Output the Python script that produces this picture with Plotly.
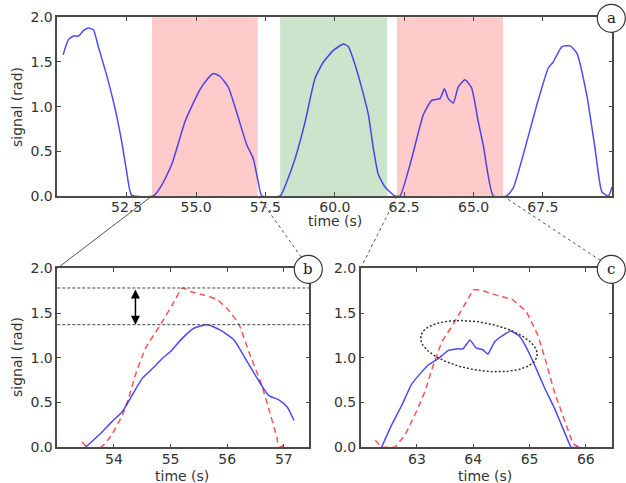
import numpy as np
import plotly.graph_objects as go

W, H = 626, 483

# ---------------- data ----------------
top_t = [50.21, 50.40, 50.58, 50.76, 50.94, 51.12, 51.30, 51.48, 51.78, 52.08, 52.32, 52.50, 52.68,
         53.46, 53.76, 54.12, 54.60, 54.84, 55.14, 55.44, 55.62, 55.86, 56.16, 56.46, 56.83, 57.06,
         57.24, 57.37, 58.03, 58.27, 58.57, 58.93, 59.29, 59.59, 59.95, 60.31, 60.49, 60.73, 60.97,
         61.21, 61.39, 61.57, 61.81, 62.17, 62.35, 62.77, 63.19, 63.49, 63.79, 63.95, 64.09, 64.27,
         64.45, 64.69, 64.93, 65.17, 65.35, 65.71, 66.19, 66.43, 66.79, 67.28, 67.69, 67.87, 68.18,
         68.48, 68.72, 69.08, 69.38, 69.62, 69.86, 69.99]
top_sig = [1.58, 1.75, 1.79, 1.79, 1.85, 1.88, 1.86, 1.67, 1.35, 0.98, 0.61, 0.27, 0.01,
           0.00, 0.12, 0.35, 0.83, 1.00, 1.19, 1.32, 1.37, 1.34, 1.22, 0.94, 0.57, 0.42,
           0.16, 0.00, 0.00, 0.16, 0.42, 0.83, 1.32, 1.50, 1.63, 1.70, 1.67, 1.47, 1.21,
           0.91, 0.53, 0.24, 0.10, 0.00, 0.00, 0.42, 0.91, 1.07, 1.09, 1.20, 1.09, 1.04,
           1.22, 1.30, 1.21, 0.83, 0.57, 0.00, 0.00, 0.09, 0.46, 1.02, 1.43, 1.50, 1.67,
           1.68, 1.60, 1.13, 0.53, 0.05, 0.00, 0.10]

red_zones = [(53.41, 57.22), (62.24, 66.06)]
green_zones = [(58.03, 61.89)]

b_t = [53.50, 53.74, 53.97, 54.15, 54.32, 54.50, 54.68, 54.85, 55.00, 55.18, 55.41, 55.65,
       55.88, 56.12, 56.35, 56.53, 56.73, 56.91, 57.06, 57.18]
b_sig = [0.00, 0.14, 0.29, 0.40, 0.58, 0.77, 0.88, 0.99, 1.07, 1.20, 1.33, 1.37,
         1.31, 1.20, 0.96, 0.77, 0.58, 0.53, 0.45, 0.30]
b_ref_t = [53.44, 53.53, 53.77, 53.94, 54.15, 54.26, 54.38, 54.56, 54.74, 54.85, 55.03, 55.21,
           55.35, 55.59, 55.82, 56.00, 56.21, 56.38, 56.59, 56.73, 56.88, 56.91, 57.00, 57.06]
b_ref = [0.06, 0.00, 0.00, 0.12, 0.36, 0.55, 0.81, 1.11, 1.29, 1.40, 1.59, 1.78,
         1.74, 1.70, 1.65, 1.55, 1.37, 1.07, 0.73, 0.44, 0.10, 0.00, 0.02, 0.00]
b_levels = [1.78, 1.37]
b_arrow_t = 54.38

c_t = [62.37, 62.55, 62.73, 62.90, 63.08, 63.20, 63.38, 63.55, 63.73, 63.82, 63.94, 64.05,
       64.17, 64.26, 64.38, 64.50, 64.67, 64.82, 64.94, 65.09, 65.27, 65.44, 65.62, 65.74, 65.88]
c_sig = [0.00, 0.25, 0.47, 0.70, 0.84, 0.92, 0.99, 1.08, 1.10, 1.10, 1.20, 1.11,
         1.09, 1.04, 1.18, 1.24, 1.30, 1.24, 1.12, 0.92, 0.66, 0.44, 0.17, 0.00, 0.00]
c_ref_t = [62.26, 62.37, 62.61, 62.79, 62.99, 63.14, 63.29, 63.44, 63.64, 63.85, 64.00, 64.12,
           64.41, 64.70, 64.94, 65.15, 65.29, 65.44, 65.62, 65.77, 65.88]
c_ref = [0.08, 0.00, 0.00, 0.14, 0.40, 0.62, 0.92, 1.18, 1.37, 1.59, 1.76, 1.76,
         1.70, 1.65, 1.52, 1.25, 0.96, 0.62, 0.29, 0.04, 0.00]
# ellipse marker in panel c: centre (t, signal), semi-axes (px), tilt (deg)
ell_center = (64.10, 1.13)
ell_axes_px = (59, 24)
ell_tilt = 9.6

top_ticks = [52.5, 55.0, 57.5, 60.0, 62.5, 65.0, 67.5]
b_ticks = [54, 55, 56, 57]
c_ticks = [63, 64, 65, 66]
y_ticks = [0.0, 0.5, 1.0, 1.5, 2.0]

# ---------------- layout geometry (pixels) ----------------
top_box = (57.3, 612.3, 17.3, 196.0)   # left, right, top, bottom
b_box = (57.3, 309.3, 268.3, 447.3)
c_box = (360.7, 612.3, 268.3, 447.3)
top_range = [50, 70]
b_range = [53.0, 57.45]
c_range = [62.0, 66.47]
y_range = [0, 2]


def xdom(box):
    return [box[0] / W, box[1] / W]


def ydom(box):
    return [1 - box[3] / H, 1 - box[2] / H]


def to_px(box, xr, x, y):
    px = box[0] + (x - xr[0]) / (xr[1] - xr[0]) * (box[1] - box[0])
    py = box[3] - (y - y_range[0]) / (y_range[1] - y_range[0]) * (box[3] - box[2])
    return px, py


BLUE = "rgba(30,30,245,0.8)"
RED = "rgba(255,40,40,0.8)"
AX = "#4a4a4a"
TXT = "#333333"
FONT = "DejaVu Sans"
SM = 0.5

fig = go.Figure()
fig.add_trace(go.Scatter(x=top_t, y=top_sig, mode="lines",
                         line=dict(color=BLUE, width=1.5, shape="spline", smoothing=SM),
                         xaxis="x", yaxis="y", showlegend=False, cliponaxis=True))
fig.add_trace(go.Scatter(x=b_ref_t, y=b_ref, mode="lines",
                         line=dict(color=RED, width=1.5, dash="6px,4px", shape="spline", smoothing=SM),
                         xaxis="x2", yaxis="y2", showlegend=False))
fig.add_trace(go.Scatter(x=b_t, y=b_sig, mode="lines",
                         line=dict(color=BLUE, width=1.5, shape="spline", smoothing=SM),
                         xaxis="x2", yaxis="y2", showlegend=False))
fig.add_trace(go.Scatter(x=c_ref_t, y=c_ref, mode="lines",
                         line=dict(color=RED, width=1.5, dash="6px,4px"),
                         xaxis="x3", yaxis="y3", showlegend=False))
fig.add_trace(go.Scatter(x=c_t, y=c_sig, mode="lines",
                         line=dict(color=BLUE, width=1.5, shape="spline", smoothing=0.3),
                         xaxis="x3", yaxis="y3", showlegend=False))

# ellipse (computed in pixel space, mapped back to data)
cpx, cpy = to_px(c_box, c_range, *ell_center)
th = np.linspace(0, 2 * np.pi, 200)
a, bb = ell_axes_px
phi = np.deg2rad(ell_tilt)
ex = a * np.cos(th) * np.cos(phi) + bb * np.sin(th) * np.sin(phi)
ey = a * np.cos(th) * np.sin(phi) - bb * np.sin(th) * np.cos(phi)
px_ = cpx + ex
py_ = cpy + ey
sx = (c_range[1] - c_range[0]) / (c_box[1] - c_box[0])
sy = (y_range[1] - y_range[0]) / (c_box[3] - c_box[2])
ell_x = c_range[0] + (px_ - c_box[0]) * sx
ell_y = (c_box[3] - py_) * sy
fig.add_trace(go.Scatter(x=ell_x, y=ell_y, mode="lines",
                         line=dict(color="#333333", width=1.5, dash="2px,2px"),
                         xaxis="x3", yaxis="y3", showlegend=False))

shapes = []
for z0, z1 in red_zones:
    shapes.append(dict(type="rect", xref="x", yref="y domain", x0=z0, x1=z1, y0=0, y1=1,
                       fillcolor="rgb(255,202,202)", line=dict(width=0), layer="below"))
for z0, z1 in green_zones:
    shapes.append(dict(type="rect", xref="x", yref="y domain", x0=z0, x1=z1, y0=0, y1=1,
                       fillcolor="rgb(203,228,203)", line=dict(width=0), layer="below"))
for lv in b_levels:
    shapes.append(dict(type="line", xref="x2 domain", yref="y2", x0=0, x1=1, y0=lv, y1=lv,
                       line=dict(color="#444444", width=1, dash="3px,2px")))


def paper(px, py):
    return px / W, 1 - py / H


conns = [
    (red_zones[0][0], (b_box[0], b_box[2]), "solid"),
    (red_zones[0][1], (b_box[1], b_box[2]), "dot"),
    (red_zones[1][0], (c_box[0], c_box[2]), "3px,3px"),
    (red_zones[1][1], (c_box[1], c_box[2]), "3px,3px"),
]
for xt, (bx, by), dsh in conns:
    p0 = paper(*to_px(top_box, top_range, xt, 0))
    p1 = paper(bx, by)
    shapes.append(dict(type="line", xref="paper", yref="paper", x0=p0[0], y0=p0[1],
                       x1=p1[0], y1=p1[1], line=dict(color="#555555", width=1, dash=dsh)))

# circle labels
R = 14
annotations = []
for box, lab in [(top_box, "a"), (b_box, "b"), (c_box, "c")]:
    cx, cy = box[1] - 1, box[2] + 1
    x0, y0 = paper(cx - R, cy + R)
    x1, y1 = paper(cx + R, cy - R)
    shapes.append(dict(type="circle", xref="paper", yref="paper", x0=x0, y0=y0, x1=x1, y1=y1,
                       fillcolor="white", line=dict(color="#333333", width=1.2)))
    px0, py0 = paper(cx, cy)
    annotations.append(dict(x=px0, y=py0, xref="paper", yref="paper", text=lab, showarrow=False,
                            font=dict(family="DejaVu Serif", size=15, color="#222222"),
                            xanchor="center", yanchor="middle"))


def title(text, px, py, angle=0):
    x, y = paper(px, py)
    annotations.append(dict(x=x, y=y, xref="paper", yref="paper", text=text, showarrow=False,
                            textangle=angle, font=dict(family=FONT, size=14, color=TXT),
                            xanchor="center", yanchor="middle"))


title("signal (rad)", 17, 107, -90)
title("time (s)", 335, 221)
title("signal (rad)", 17, 357, -90)
title("time (s)", 182, 476)
title("time (s)", 485, 476)

# double arrow
annotations.append(dict(x=b_arrow_t, y=b_levels[1], ax=b_arrow_t, ay=b_levels[0],
                        xref="x2", yref="y2", axref="x2", ayref="y2", text="", showarrow=True,
                        arrowhead=2, arrowside="end+start", arrowsize=1.2, arrowwidth=1.5,
                        arrowcolor="black", standoff=0, startstandoff=0))

axis_common = dict(showline=True, linecolor=AX, linewidth=1.5, mirror="ticks", ticks="inside",
                   ticklen=4, tickcolor=AX, tickwidth=1, showgrid=False, zeroline=False,
                   automargin=False, tickfont=dict(family=FONT, size=14, color=TXT))
xaxis_common = dict(axis_common, ticklabelstandoff=-2)
xaxis_top = dict(axis_common, ticklabelstandoff=-3)

fig.update_layout(
    width=W, height=H, margin=dict(l=0, r=0, t=0, b=0, autoexpand=False),
    paper_bgcolor="white", plot_bgcolor="white", showlegend=False,
    xaxis=dict(domain=xdom(top_box), range=top_range, anchor="y", tickvals=top_ticks,
               tickformat=".1f", **xaxis_top),
    yaxis=dict(domain=ydom(top_box), range=y_range, anchor="x", tickvals=y_ticks,
               tickformat=".1f", **axis_common),
    xaxis2=dict(domain=xdom(b_box), range=b_range, anchor="y2", tickvals=b_ticks, **xaxis_common),
    yaxis2=dict(domain=ydom(b_box), range=y_range, anchor="x2", tickvals=y_ticks,
                tickformat=".1f", **axis_common),
    xaxis3=dict(domain=xdom(c_box), range=c_range, anchor="y3", tickvals=c_ticks, **xaxis_common),
    yaxis3=dict(domain=ydom(c_box), range=y_range, anchor="x3", tickvals=y_ticks,
                tickformat=".1f", **axis_common),
    shapes=shapes, annotations=annotations,
)

fig.write_html("out.html")
